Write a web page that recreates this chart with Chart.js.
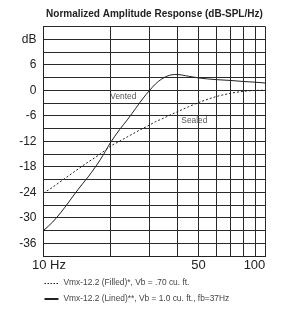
<!DOCTYPE html>
<html>
<head>
<meta charset="utf-8">
<script src="https://cdn.jsdelivr.net/npm/chart.js@4.4.0/dist/chart.umd.min.js"></script>
<style>
    html, body { margin: 0; padding: 0; background: #fff; }
</style>
</head>
<body>
<canvas id="ResponseChart" width="289" height="309"></canvas>
<script>
const freqs = [10, 11, 12, 13, 14, 15, 16, 17, 18, 19, 20, 22, 24, 26, 28, 30, 32, 34, 36, 38, 40, 45, 50, 60, 70, 80, 90, 100];
// Sealed box response (dotted), dB.
const sealedDb = [-24.2, -22.8, -21.4, -20.1, -18.9, -17.8, -16.8, -15.9, -15.0, -14.1, -13.2, -12.0, -10.9, -9.9, -9.0, -8.2, -7.4, -6.8, -6.2, -5.6, -5.1, -3.9, -2.9, -1.5, -0.7, -0.25, -0.05, 0];
// Vented box response (solid), dB.
const ventedDb = [-33, -31, -28.7, -26.3, -24, -22, -20.2, -18.3, -16.4, -14.4, -12.4, -9.3, -6.8, -4.3, -2.0, -0.1, 1.5, 2.6, 3.3, 3.65, 3.7, 3.3, 2.9, 2.5, 2.3, 2.05, 1.9, 1.7];
// Vertical grid lines and the x labels that are printed.
const freqTicks = [10, 20, 30, 40, 50, 60, 70, 80, 90, 100];
const freqLabelValues = [10, 50, 100];
const freqLabelTexts = ["   10 Hz", "50", "100      "];
// Horizontal grid lines every 3 dB.
const dbTicks = [-39, -36, -33, -30, -27, -24, -21, -18, -15, -12, -9, -6, -3, 0, 3, 6, 9, 12, 15];
// y labels every 6 dB, the 12 dB line carries the unit instead.
const dbLabelValues = [12, 6, 0, -6, -12, -18, -24, -30, -36];
const dbLabelTexts = ["dB", "6", "0", "-6", "-12", "-18", "-24", "-30", "-36"];
// Text inside the plot and the legend under it.
const curveNames = ["Sealed", "Vented"];
const legendTexts = ["Vmx-12.2 (Filled)*, Vb = .70 cu. ft.", "Vmx-12.2 (Lined)**, Vb = 1.0 cu. ft., fb=37Hz"];

Chart.defaults.font.family = "'Liberation Sans', Arial, sans-serif";
Chart.defaults.color = "#222";

/**
 * Turn a list of dB values into {x, y} points on the frequency list.
 */
function toPoints(values) {
    return freqs.map(function(f, i) { return { x: f, y: values[i] }; });
}

/**
 * Draws the "Sealed" / "Vented" tags and the two line legend under the chart.
 */
const textPlugin = {
    id: "textPlugin",
    afterDraw: function(chart) {
        var ctx = chart.ctx;
        var xs = chart.scales.x;
        var ys = chart.scales.y;
        ctx.save();
        ctx.font = "8.4px 'Liberation Sans', Arial, sans-serif";
        ctx.fillStyle = "#555";
        ctx.textBaseline = "middle";
        ctx.textAlign = "left";
        // Curve tags, placed by data value.
        ctx.fillText(curveNames[1], xs.getPixelForValue(20), ys.getPixelForValue(-1.6));
        ctx.fillText(curveNames[0], xs.getPixelForValue(41.8), ys.getPixelForValue(-7.2));
        // Legend rows.
        var left = chart.chartArea.left;
        var y1 = chart.chartArea.bottom + 27;
        var y2 = y1 + 16;
        ctx.fillStyle = "#444";
        ctx.fillText(legendTexts[0], left + 20, y1);
        ctx.fillText(legendTexts[1], left + 20, y2);
        ctx.strokeStyle = "#222";
        ctx.lineWidth = 1;
        ctx.setLineDash([1.5, 1.5]);
        ctx.beginPath();
        ctx.moveTo(left + 1, y1 + 0.5);
        ctx.lineTo(left + 15, y1 + 0.5);
        ctx.stroke();
        ctx.setLineDash([]);
        ctx.lineWidth = 2;
        ctx.beginPath();
        ctx.moveTo(left + 1, y2);
        ctx.lineTo(left + 15, y2);
        ctx.stroke();
        ctx.restore();
    }
};

var canvas = document.getElementById("ResponseChart");
const chart = new Chart(canvas, {
    type: "line",
    data: {
        datasets: [{
            label: legendTexts[0],
            data: toPoints(sealedDb),
            borderColor: "#222",
            borderWidth: 1,
            borderDash: [2, 2],
            pointRadius: 0,
            cubicInterpolationMode: "monotone",
            fill: false
        },
        {
            label: legendTexts[1],
            data: toPoints(ventedDb),
            borderColor: "#222",
            borderWidth: 1,
            pointRadius: 0,
            cubicInterpolationMode: "monotone",
            fill: false
        }]
    },
    options: {
        responsive: false,
        animation: false,
        layout: {
            padding: { left: 0, right: 21.5, top: 0, bottom: 33 }
        },
        plugins: {
            legend: { display: false },
            tooltip: { enabled: false },
            title: {
                display: true,
                fullSize: false,
                text: "Normalized Amplitude Response (dB-SPL/Hz)",
                font: { size: 10, weight: "bold" },
                color: "#222",
                padding: { top: 8.5, bottom: 6 }
            }
        },
        scales: {
            x: {
                type: "logarithmic",
                min: 10,
                max: 100,
                afterBuildTicks: function(scale) {
                    scale.ticks = freqTicks.map(function(v) { return { value: v }; });
                },
                afterFit: function(scale) {
                    scale.height = 20;
                },
                ticks: {
                    autoSkip: false,
                    maxRotation: 0,
                    padding: 2,
                    font: { size: 13 },
                    color: "#222",
                    callback: function(value) {
                        var i = freqLabelValues.indexOf(value);
                        return i >= 0 ? freqLabelTexts[i] : "";
                    }
                },
                grid: { color: "#2a2a2a", lineWidth: 1, drawTicks: false },
                border: { color: "#222", width: 1 }
            },
            y: {
                min: -39,
                max: 15,
                afterBuildTicks: function(scale) {
                    scale.ticks = dbTicks.map(function(v) { return { value: v }; });
                },
                afterFit: function(scale) {
                    scale.width = 43.5;
                },
                ticks: {
                    autoSkip: false,
                    padding: 7,
                    font: { size: 12 },
                    color: "#222",
                    callback: function(value) {
                        var i = dbLabelValues.indexOf(value);
                        return i >= 0 ? dbLabelTexts[i] : "";
                    }
                },
                grid: { color: "#2a2a2a", lineWidth: 1, drawTicks: false },
                border: { color: "#222", width: 1 }
            }
        }
    },
    plugins: [textPlugin]
});
</script>
</body>
</html>
